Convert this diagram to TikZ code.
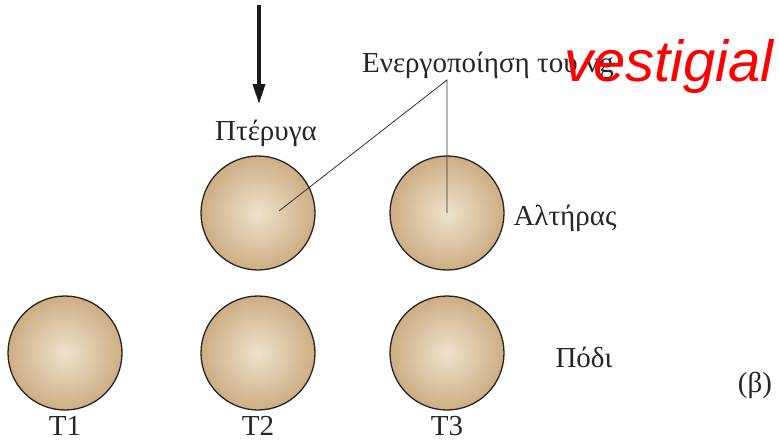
\documentclass[tikz,border=0pt]{standalone}
\usepackage{fontspec}
\setmainfont{Liberation Serif}
\newfontfamily\redfont{Liberation Sans}
\usetikzlibrary{arrows.meta}
\definecolor{discin}{HTML}{EEE2CC}
\definecolor{discout}{HTML}{CDAE84}
\definecolor{rim}{HTML}{2A2420}
\tikzset{
  disc/.style={circle, minimum size=114pt, inner sep=0pt, draw=rim, line width=1.3pt,
    inner color=discin, outer color=discout},
  lbl/.style={font=\fontsize{29}{32}\selectfont, text=black!85, inner sep=0pt},
  pointer/.style={draw=black!80, line width=0.8pt},
}
\begin{document}
\begin{tikzpicture}[x=1pt,y=-1pt]
\useasboundingbox (0,0) rectangle (779,442);
% discs
\node[disc] (w) at (258,213) {};
\node[disc] (h) at (447,213) {};
\node[disc] (l1) at (65,353) {};
\node[disc] (l2) at (258,353) {};
\node[disc] (l3) at (447,353) {};
% labels
\node[lbl] (tw) at (266,133) {Πτέρυγα};
\node[lbl] (th) at (565,218) {Αλτήρας};
\node[lbl] (tl) at (584,357) {Πόδι};
\node[lbl] (tb) at (755,385) {(β)};
\node[lbl] (t1) at (65,426) {T1};
\node[lbl] (t2) at (258,426) {T2};
\node[lbl] (t3) at (447,426) {T3};
% activation label
\node[lbl, anchor=base west] (act) at (362,72) {Ενεργοποίηση του vg};
\coordinate (apex) at (447,80);
\coordinate (pw) at (279,211);
\coordinate (ph) at (447,213);
\draw[pointer] (pw) -- (apex) -- (ph);
% red overlay
\node[anchor=base west, inner sep=0pt, text=red, font=\redfont\itshape\fontsize{58}{60}\selectfont] (vest) at (564,81) {vestigial};
% arrow
\coordinate (atop) at (259,5);
\coordinate (abot) at (259,104);
\draw[line width=3.5pt, draw=black!90, -{Triangle[length=20pt,width=12pt]}] (atop) -- (abot);
\end{tikzpicture}
\end{document}
